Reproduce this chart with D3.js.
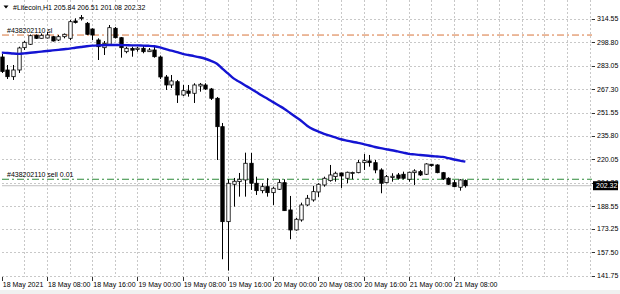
<!DOCTYPE html>
<html>
<head>
<meta charset="utf-8">
<script src="https://cdn.jsdelivr.net/npm/d3@7"></script>
<style>
  body { margin: 0; background: #fff; }
  text { font-family: "Liberation Sans", Arial, sans-serif; font-size: 7px; fill: #000; }
</style>
</head>
<body>
<svg id="chart" width="620" height="294"></svg>
<script>
// Litecoin H1 candles, one entry per hour starting 18 May 2021 00:00
var open = [288.98, 280.23, 275.72, 280.23, 295.24, 297.53, 303.58, 301.56, 301.77, 302.64,
  300.42, 302.64, 301.56, 313.21, 315.23, 311.66, 307.82, 300.42, 295.24, 297.53,
  308.29, 301.97, 292.55, 294.70, 294.03, 294.83, 292.55, 293.69, 288.98, 275.52,
  270.13, 272.36, 263.40, 266.10, 264.55, 269.46, 270.13, 267.44, 261.18, 242.07,
  178.14, 203.31, 205.06, 206.20, 217.44, 203.98, 199.00, 201.69, 197.65, 199.94,
  204.38, 186.01, 172.55, 179.28, 189.37, 192.74, 198.12, 202.83, 205.73, 208.42,
  210.91, 207.34, 210.71, 211.11, 217.84, 218.99, 217.84, 212.93, 204.38, 207.88,
  209.56, 210.04, 206.67, 211.11, 211.79, 210.04, 216.77, 216.29, 211.11, 207.34,
  204.38, 201.29, 205.84];
var high = [291.00, 283.59, 283.59, 295.91, 299.75, 304.12, 304.12, 304.79, 306.01, 303.11,
  303.78, 304.79, 313.88, 315.02, 317.24, 312.53, 308.29, 301.56, 299.75, 310.51,
  309.17, 302.44, 295.91, 295.91, 295.91, 297.05, 295.04, 297.05, 289.99, 276.86,
  276.86, 273.50, 270.13, 270.13, 271.28, 271.48, 271.28, 268.12, 262.06, 244.56,
  206.67, 207.55, 210.91, 224.57, 224.37, 208.42, 203.98, 207.34, 201.69, 206.67,
  206.67, 195.43, 180.63, 190.92, 196.10, 202.16, 203.98, 208.42, 216.29, 211.79,
  211.11, 211.79, 211.79, 219.66, 223.70, 223.02, 219.66, 214.07, 209.56, 210.71,
  210.91, 211.79, 211.79, 213.40, 212.93, 217.44, 216.97, 216.77, 211.58, 208.02,
  206.20, 206.67, 206.51];
var low = [278.21, 274.17, 273.50, 278.21, 293.69, 297.05, 301.09, 301.43, 301.43, 299.41,
  299.75, 301.56, 300.42, 311.52, 313.54, 303.78, 300.42, 286.96, 290.32, 296.58,
  301.43, 288.51, 291.47, 289.18, 292.55, 291.47, 292.34, 288.51, 274.17, 266.77,
  268.12, 258.02, 262.73, 262.26, 258.02, 265.63, 266.77, 260.04, 219.66, 152.83,
  145.16, 188.23, 194.96, 194.96, 199.47, 196.10, 197.25, 194.96, 189.37, 199.47,
  185.34, 166.29, 172.08, 178.14, 188.70, 191.60, 194.76, 201.69, 205.06, 205.06,
  200.82, 203.98, 206.67, 210.71, 212.93, 215.15, 210.71, 197.25, 203.98, 205.06,
  206.54, 206.67, 205.06, 202.83, 208.89, 209.56, 215.15, 210.71, 206.20, 202.83,
  201.29, 199.00, 201.08];
var close = [279.22, 275.72, 280.23, 295.04, 298.87, 303.31, 301.56, 303.58, 303.78, 299.75,
  302.64, 304.26, 312.74, 312.20, 315.56, 304.26, 303.78, 295.91, 298.20, 308.70,
  301.97, 295.24, 294.83, 293.56, 294.90, 292.55, 293.69, 289.18, 275.52, 270.13,
  272.83, 263.40, 266.30, 264.55, 270.13, 270.61, 267.44, 261.18, 242.07, 178.14,
  203.98, 205.33, 206.67, 217.44, 203.98, 199.00, 201.69, 197.65, 200.61, 204.38,
  185.54, 172.55, 179.75, 189.37, 193.88, 198.33, 203.31, 207.34, 209.56, 210.71,
  208.89, 211.38, 211.25, 217.84, 219.19, 217.84, 212.93, 203.98, 208.42, 208.69,
  207.34, 207.34, 211.38, 212.26, 209.56, 216.97, 215.82, 211.11, 206.87, 203.31,
  201.69, 206.20, 202.32];

// moving average (blue line), same hours
var ma = [291.9, 291.7, 291.3, 291.1, 291.4, 291.8, 292.2, 292.6, 293.0, 293.4,
  293.8, 294.2, 294.6, 295.2, 295.7, 296.2, 296.6, 296.8, 296.9, 297.0,
  297.05, 297.0, 296.95, 296.8, 296.8, 296.6, 296.5, 296.2, 295.4, 294.3,
  293.2, 292.2, 291.1, 290.3, 289.6, 288.8, 287.8, 286.4, 284.6, 281.2,
  277.9, 274.6, 272.3, 270.0, 267.7, 265.4, 263.0, 260.9, 258.6, 256.3,
  254.0, 251.3, 248.6, 245.9, 242.7, 240.4, 238.8, 237.3, 236.0, 234.8,
  233.6, 232.7, 231.9, 231.2, 230.3, 229.4, 228.4, 227.6, 226.9, 226.2,
  225.4, 224.6, 223.8, 223.4, 223.0, 222.7, 222.3, 222.0, 221.7, 220.9,
  220.0, 219.2, 218.5];

var priceTicks = [314.55, 298.80, 283.05, 267.30, 251.55, 235.80, 220.05, 204.30, 188.55, 173.25, 157.50, 141.75];
var timeLabels = ["18 May 2021", "18 May 08:00", "18 May 16:00", "19 May 00:00", "19 May 08:00",
  "19 May 16:00", "20 May 00:00", "20 May 08:00", "20 May 16:00", "21 May 00:00", "21 May 08:00"];
var timeLabelBars = [0, 8, 16, 24, 32, 40, 48, 56, 64, 72, 80];

var title = "#Litecoin,H1  205.84 206.51 201.08 202.32";
var slPrice = 303.75, slLabel = "#438202110 sl";
var orderPrice = 206.67, orderLabel = "#438202110 sell 0.01";
var bid = 202.32;

var svg = d3.select("#chart"),
    left = 2, right = 592, top = 1.5, bottom = 277;

var x = d3.scaleLinear().domain([0, 100]).range([1.8, 567.1]);
var y = d3.scaleLinear().domain([141.75, 314.55]).range([275.7, 19]);

var data = open.map(function (o, i) {
    return { i: i, o: o, h: high[i], l: low[i], c: close[i], ma: ma[i] };
});

svg.append("rect").attr("width", 620).attr("height", 294).attr("fill", "#fff");
svg.append("rect").attr("x", 0).attr("y", 290).attr("width", 620).attr("height", 4).attr("fill", "#f0f0f0");

// grid
var g = svg.append("g");
g.selectAll(".hgrid").data(priceTicks).enter().append("line")
    .attr("x1", left).attr("x2", right)
    .attr("y1", function (d) { return Math.round(y(d)) + 0.5; })
    .attr("y2", function (d) { return Math.round(y(d)) + 0.5; })
    .attr("stroke", "#c8c8c8").attr("stroke-dasharray", "2,2");

var vgrid = d3.range(4, 105, 4);
g.selectAll(".vgrid").data(vgrid).enter().append("line")
    .attr("x1", function (d) { return Math.round(x(d)) + 0.5; })
    .attr("x2", function (d) { return Math.round(x(d)) + 0.5; })
    .attr("y1", top).attr("y2", bottom)
    .attr("stroke", "#c8c8c8").attr("stroke-dasharray", "2,2");

// bid line
svg.append("line")
    .attr("x1", left).attr("x2", right)
    .attr("y1", y(bid)).attr("y2", y(bid))
    .attr("stroke", "#c0c0c0");

// order lines
svg.append("line")
    .attr("x1", left).attr("x2", right)
    .attr("y1", y(slPrice)).attr("y2", y(slPrice))
    .attr("stroke", "#d8743a").attr("stroke-dasharray", "7,3,2,3");
svg.append("line")
    .attr("x1", left).attr("x2", right)
    .attr("y1", y(orderPrice)).attr("y2", y(orderPrice))
    .attr("stroke", "#2e8b3a").attr("stroke-dasharray", "7,3,2,3");

svg.append("text").attr("x", 7).attr("y", y(slPrice) - 2).attr("fill", "#333").text(slLabel);
svg.append("text").attr("x", 7).attr("y", y(orderPrice) - 2).attr("fill", "#333").text(orderLabel);

// candles
var bw = 3.4;
var candle = svg.append("g").selectAll(".candle").data(data).enter().append("g");

candle.append("line")
    .attr("x1", function (d) { return Math.round(x(d.i)) + 0.5; })
    .attr("x2", function (d) { return Math.round(x(d.i)) + 0.5; })
    .attr("y1", function (d) { return y(d.h); })
    .attr("y2", function (d) { return y(d.l); })
    .attr("stroke", "#000");

candle.append("rect")
    .attr("x", function (d) { return Math.round(x(d.i)) + 0.5 - bw / 2; })
    .attr("y", function (d) { return y(Math.max(d.o, d.c)); })
    .attr("width", bw)
    .attr("height", function (d) { return Math.max(1, Math.abs(y(d.o) - y(d.c))); })
    .attr("fill", function (d) { return d.c >= d.o ? "#fff" : "#000"; })
    .attr("stroke", "#000").attr("stroke-width", 0.8);

// moving average
var line = d3.line()
    .x(function (d) { return x(d.i); })
    .y(function (d) { return y(d.ma); })
    .curve(d3.curveMonotoneX);

svg.append("path").datum(data)
    .attr("d", line)
    .attr("fill", "none")
    .attr("stroke", "#1414d2")
    .attr("stroke-width", 2.4);

// frame
svg.append("rect")
    .attr("x", left + 0.5).attr("y", top)
    .attr("width", right - left).attr("height", bottom - top)
    .attr("fill", "none").attr("stroke", "#333");

// price axis
var yAxis = svg.append("g");
yAxis.selectAll("line").data(priceTicks).enter().append("line")
    .attr("x1", right).attr("x2", right + 3)
    .attr("y1", function (d) { return Math.round(y(d)) + 0.5; })
    .attr("y2", function (d) { return Math.round(y(d)) + 0.5; })
    .attr("stroke", "#333");
yAxis.selectAll("text").data(priceTicks).enter().append("text")
    .attr("x", right + 5)
    .attr("y", function (d) { return y(d); })
    .attr("dy", "0.35em")
    .text(function (d) { return d.toFixed(2); });

// current price box
svg.append("rect")
    .attr("x", right + 1).attr("y", y(bid) - 4.5)
    .attr("width", 25).attr("height", 9)
    .attr("fill", "#000");
svg.append("text")
    .attr("x", right + 4).attr("y", y(bid)).attr("dy", "0.35em")
    .style("fill", "#fff")
    .text(bid.toFixed(2));

// time axis
var xAxis = svg.append("g");
xAxis.selectAll("line").data(timeLabelBars).enter().append("line")
    .attr("x1", function (d) { return Math.round(x(d)) + 0.5; })
    .attr("x2", function (d) { return Math.round(x(d)) + 0.5; })
    .attr("y1", bottom).attr("y2", bottom + 4)
    .attr("stroke", "#333");
xAxis.selectAll("text").data(timeLabelBars).enter().append("text")
    .attr("x", function (d) { return x(d) + 1; })
    .attr("y", 287)
    .text(function (d, i) { return timeLabels[i]; });

// title
svg.append("path").attr("d", "M3.5,5.5L8.5,5.5L6,8.5Z").attr("fill", "#000");
svg.append("text").attr("x", 13).attr("y", 9.5).text(title);
</script>
</body>
</html>
